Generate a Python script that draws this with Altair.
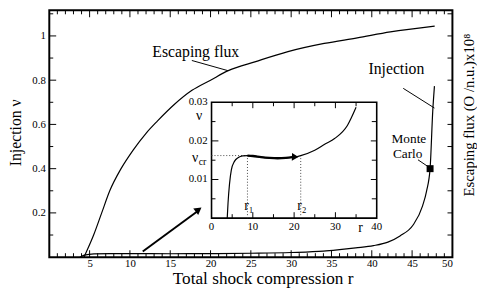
import altair as alt
import pandas as pd

FONT = "Liberation Serif"
W, H = 410, 251
X_DOM = [0, 50]
Y_DOM = [0, 1.1156]
INS_X_DOM = [0, 40]
INS_Y_DOM = [0, 0.03]
INS_X_RANGE = [165, 333]
INS_Y_RANGE = [211.3, 93.5]

# ---- main curves ----
esc_r = [4.3, 4.8, 5.5, 6.5, 7.5, 8.9, 10.4, 12.0, 13.4, 15.5, 17.7, 20.0, 22.2, 25.6, 29.6, 34.1, 38.2, 42.3, 47.8]
esc_v = [0.0, 0.04, 0.10, 0.20, 0.30, 0.40, 0.484, 0.56, 0.615, 0.69, 0.754, 0.80, 0.843, 0.884, 0.929, 0.966, 0.991, 1.018, 1.044]

inj_r = [3.8, 4.35, 5.55, 7.55, 10.0, 15.0, 20.0, 25.0, 30.0, 34.0, 36.0, 38.0, 40.2, 42.0, 43.5, 45.1, 46.3, 46.8, 47.23, 47.56, 47.77]
inj_v = [0.0, 0.009, 0.015, 0.016, 0.016, 0.0155, 0.0158, 0.0177, 0.021, 0.027, 0.034, 0.042, 0.052, 0.068, 0.096, 0.144, 0.232, 0.30, 0.40, 0.66, 0.773]

# Monte Carlo point
mc_r = [47.23]
mc_v = [0.40]

# ---- inset curve ----
ins_r = [3.8, 4.0, 4.35, 4.8, 5.55, 6.5, 7.55, 8.7, 10.0, 12.0, 14.0, 16.0, 18.0, 20.0, 21.6, 25.0, 27.5, 29.8, 32.9, 35.0]
ins_v = [0.0, 0.004, 0.0088, 0.0125, 0.0147, 0.0157, 0.0161, 0.0162, 0.0161, 0.0158, 0.0156, 0.0155, 0.0156, 0.0158, 0.0162, 0.0176, 0.0192, 0.0206, 0.024, 0.0287]
arr_r = [8.7, 10.0, 12.0, 14.0, 16.0, 18.0, 19.6]
arr_v = [0.0162, 0.0161, 0.0158, 0.0156, 0.0155, 0.0156, 0.0158]
arr_head_r = [20.0]
arr_head_v = [0.01585]
nu_cr = 0.0162
r1 = 8.7
r2 = 21.6

# ---- ticks / labels ----
main_x_major = [5, 10, 15, 20, 25, 30, 35, 40, 45]
main_x_minor = [1, 2, 3, 4, 6, 7, 8, 9, 11, 12, 13, 14, 16, 17, 18, 19, 21, 22, 23, 24,
                26, 27, 28, 29, 31, 32, 33, 34, 36, 37, 38, 39, 41, 42, 43, 44, 46, 47, 48, 49]
main_x_labels = [5, 10, 15, 20, 25, 30, 35, 40, 45, 50]
main_y_major = [0.2, 0.4, 0.6, 0.8, 1.0]
main_y_minor = [0.1, 0.3, 0.5, 0.7, 0.9, 1.1]
right_ticks = [0.1, 0.2, 0.3, 0.4, 0.5, 0.6, 0.7, 0.8, 0.9, 1.0, 1.1]

ins_x_major = [10, 20, 30]
ins_x_minor = [5, 15, 25, 35]
ins_y_major = [0.01, 0.02]
ins_y_minor = [0.005, 0.015, 0.025]
ins_x_labels = [0, 10, 20, 30, 40]
ins_x_label_text = ["0", "10", "20", "30", "40"]
ins_y_labels = [0.01, 0.02, 0.03]
ins_y_label_text = ["0.01", "0.02", "0.03"]

# ---- annotations (main) ----
ann_text = ["Escaping flux", "Injection"]
ann_r = [18.17, 43.05]
ann_v = [0.907, 0.829]
mc_text = ["Monte", "Carlo"]
mc_text_r = [44.6, 44.45]
mc_text_v = [0.514, 0.4476]
ptr_r = [17.68, 43.9, 45.73]
ptr_v = [0.889, 0.763, 0.44]
ptr_r2 = [22.16, 47.77, 47.23]
ptr_v2 = [0.843, 0.674, 0.403]
big_arrow_r = [11.59]
big_arrow_v = [0.0253]
big_arrow_r2 = [18.3]
big_arrow_v2 = [0.205]
big_head_r = [18.4]
big_head_v = [0.2116]


def xsc():
    return alt.Scale(domain=X_DOM, nice=False, zero=False)


def ysc():
    return alt.Scale(domain=Y_DOM, nice=False, zero=False)


def ixsc():
    return alt.Scale(domain=INS_X_DOM, range=INS_X_RANGE, nice=False, zero=False)


def iysc():
    return alt.Scale(domain=INS_Y_DOM, range=INS_Y_RANGE, nice=False, zero=False)


x_axis = alt.Axis(orient="bottom", values=main_x_labels, format="d", ticks=False, tickSize=0,
                  domain=False, grid=False,
                  labelFont=FONT, labelFontSize=11, labelPadding=1, labelColor="black",
                  title="Total shock compression r", titleFont=FONT, titleFontSize=17.5,
                  titleFontWeight="normal", titleColor="black", titleX=217, titleY=26.5,
                  titleAlign="center", titleBaseline="alphabetic")
y_axis = alt.Axis(orient="left", values=main_y_major,
                  labelExpr="datum.value == 1 ? '1' : format(datum.value, '.1f')",
                  ticks=False, tickSize=0, domain=False, grid=False,
                  labelFont=FONT, labelFontSize=11, labelPadding=4, labelColor="black",
                  title="Injection ν", titleFont=FONT, titleFontSize=16, titleFontWeight="normal",
                  titleColor="black", titleAngle=270, titleX=-34, titleY=124,
                  titleAlign="center", titleBaseline="middle")
right_axis = alt.Axis(orient="right", labels=False, ticks=False, tickSize=0, domain=False, grid=False,
                      title="Escaping flux (O /n.u.)x10⁸", titleFont=FONT, titleFontSize=15,
                      titleFontWeight="normal", titleColor="black", titleAngle=270,
                      titleX=21, titleY=106, titleAlign="center", titleBaseline="alphabetic")

# ---------------- main marks ----------------
esc = alt.Chart(pd.DataFrame({"r": esc_r, "v": esc_v})).mark_line(
    color="black", strokeWidth=1.2, interpolate="monotone").encode(
    x=alt.X("r:Q", scale=xsc(), axis=x_axis),
    y=alt.Y("v:Q", scale=ysc(), axis=y_axis))

inj = alt.Chart(pd.DataFrame({"r": inj_r, "v": inj_v})).mark_line(
    color="black", strokeWidth=1.2, interpolate="monotone").encode(
    x=alt.X("r:Q", scale=xsc(), axis=None),
    y=alt.Y("v:Q", scale=ysc(), axis=None))

mc = alt.Chart(pd.DataFrame({"r": mc_r, "v": mc_v})).mark_point(
    shape="square", filled=True, size=50, color="black", opacity=1).encode(
    x=alt.X("r:Q", scale=xsc(), axis=None),
    y=alt.Y("v:Q", scale=ysc(), axis=None))


def vticks(vals, yd, off, xs, ys):
    return alt.Chart(pd.DataFrame({"t": vals})).mark_rule(
        color="black", strokeWidth=1, y2Offset=off).encode(
        x=alt.X("t:Q", scale=xs, axis=None),
        y=alt.YDatum(yd, scale=ys, axis=None),
        y2=alt.Y2Datum(yd))


def hticks(vals, xd, off, xs, ys):
    return alt.Chart(pd.DataFrame({"t": vals})).mark_rule(
        color="black", strokeWidth=1, x2Offset=off).encode(
        y=alt.Y("t:Q", scale=ys, axis=None),
        x=alt.XDatum(xd, scale=xs, axis=None),
        x2=alt.X2Datum(xd))


main_ticks = [
    vticks(main_x_major, 0, -7, xsc(), ysc()),
    vticks(main_x_minor, 0, -4, xsc(), ysc()),
    vticks(main_x_major, Y_DOM[1], 7, xsc(), ysc()),
    vticks(main_x_minor, Y_DOM[1], 4, xsc(), ysc()),
    hticks(main_y_major, 0, 7, xsc(), ysc()),
    hticks(main_y_minor, 0, 4, xsc(), ysc()),
]

ann = alt.Chart(pd.DataFrame({"r": ann_r, "v": ann_v, "t": ann_text})).mark_text(
    font=FONT, fontSize=16, align="center", baseline="alphabetic", color="black").encode(
    x=alt.X("r:Q", scale=xsc(), axis=None),
    y=alt.Y("v:Q", scale=ysc(), axis=None),
    text="t:N")

mct = alt.Chart(pd.DataFrame({"r": mc_text_r, "v": mc_text_v, "t": mc_text})).mark_text(
    font=FONT, fontSize=13.5, align="center", baseline="alphabetic", color="black").encode(
    x=alt.X("r:Q", scale=xsc(), axis=None),
    y=alt.Y("v:Q", scale=ysc(), axis=None),
    text="t:N")

ptr = alt.Chart(pd.DataFrame({"r": ptr_r, "v": ptr_v, "r2": ptr_r2, "v2": ptr_v2})).mark_rule(
    color="black", strokeWidth=1).encode(
    x=alt.X("r:Q", scale=xsc(), axis=None), y=alt.Y("v:Q", scale=ysc(), axis=None),
    x2="r2:Q", y2="v2:Q")

big_arrow = alt.Chart(pd.DataFrame({"r": big_arrow_r, "v": big_arrow_v,
                                    "r2": big_arrow_r2, "v2": big_arrow_v2})).mark_rule(
    color="black", strokeWidth=2).encode(
    x=alt.X("r:Q", scale=xsc(), axis=None), y=alt.Y("v:Q", scale=ysc(), axis=None),
    x2="r2:Q", y2="v2:Q")

big_head = alt.Chart(pd.DataFrame({"r": big_head_r, "v": big_head_v})).mark_point(
    shape="triangle", filled=True, size=70, angle=53, color="black", opacity=1).encode(
    x=alt.X("r:Q", scale=xsc(), axis=None), y=alt.Y("v:Q", scale=ysc(), axis=None))

# ---------------- right axis ----------------
right = alt.Chart(pd.DataFrame({"t": right_ticks})).mark_rule(
    color="black", strokeWidth=1, x2Offset=-5).encode(
    y=alt.Y("t:Q", scale=ysc(), axis=right_axis),
    x=alt.XDatum(X_DOM[1], scale=xsc(), axis=None),
    x2=alt.X2Datum(X_DOM[1]))

# ---------------- inset ----------------
frame = alt.Chart(pd.DataFrame({"a": [0]})).mark_rect(
    fill="white", stroke="black", strokeWidth=1.6).encode(
    x=alt.XDatum(INS_X_DOM[0], scale=ixsc(), axis=None), x2=alt.X2Datum(INS_X_DOM[1]),
    y=alt.YDatum(INS_Y_DOM[0], scale=iysc(), axis=None), y2=alt.Y2Datum(INS_Y_DOM[1]))

dots = alt.Chart(pd.DataFrame({"r": [0, r1, r2], "v": [nu_cr, 0, 0],
                               "r2": [r1, r1, r2], "v2": [nu_cr, nu_cr, nu_cr]})).mark_rule(
    color="#444444", strokeWidth=1, strokeDash=[1, 2]).encode(
    x=alt.X("r:Q", scale=ixsc(), axis=None), y=alt.Y("v:Q", scale=iysc(), axis=None),
    x2="r2:Q", y2="v2:Q")

icurve = alt.Chart(pd.DataFrame({"r": ins_r, "v": ins_v})).mark_line(
    color="black", strokeWidth=1.2, interpolate="monotone").encode(
    x=alt.X("r:Q", scale=ixsc(), axis=None), y=alt.Y("v:Q", scale=iysc(), axis=None))

iarrow = alt.Chart(pd.DataFrame({"r": arr_r, "v": arr_v})).mark_line(
    color="black", strokeWidth=2.4, interpolate="monotone").encode(
    x=alt.X("r:Q", scale=ixsc(), axis=None), y=alt.Y("v:Q", scale=iysc(), axis=None))

ihead = alt.Chart(pd.DataFrame({"r": arr_head_r, "v": arr_head_v})).mark_point(
    shape="triangle", filled=True, size=60, angle=92, color="black", opacity=1).encode(
    x=alt.X("r:Q", scale=ixsc(), axis=None), y=alt.Y("v:Q", scale=iysc(), axis=None))

ins_ticks = [
    vticks(ins_x_major, 0, -6, ixsc(), iysc()),
    vticks(ins_x_minor, 0, -4, ixsc(), iysc()),
    vticks(ins_x_major, INS_Y_DOM[1], 6, ixsc(), iysc()),
    vticks(ins_x_minor, INS_Y_DOM[1], 4, ixsc(), iysc()),
    hticks(ins_y_major, 0, 7, ixsc(), iysc()),
    hticks(ins_y_minor, 0, 4, ixsc(), iysc()),
    hticks(ins_y_major, INS_X_DOM[1], -6, ixsc(), iysc()),
    hticks(ins_y_minor, INS_X_DOM[1], -5, ixsc(), iysc()),
]

ixlab = alt.Chart(pd.DataFrame({"r": ins_x_labels, "t": ins_x_label_text})).mark_text(
    font=FONT, fontSize=11, align="center", baseline="top", dy=3, color="black").encode(
    x=alt.X("r:Q", scale=ixsc(), axis=None), y=alt.YDatum(0, scale=iysc(), axis=None), text="t:N")

iylab = alt.Chart(pd.DataFrame({"v": ins_y_labels, "t": ins_y_label_text})).mark_text(
    font=FONT, fontSize=11, align="right", baseline="middle", dx=-4, color="black").encode(
    y=alt.Y("v:Q", scale=iysc(), axis=None), x=alt.XDatum(0, scale=ixsc(), axis=None), text="t:N")

isym_text = ["r", "ν", "ν", "r₁", "r₂"]
isym_r = [36.1, -2.98, -3.98, 9.05, 21.9]
isym_v = [-0.0025, 0.0265, 0.0155, 0.0031, 0.0031]
isym = alt.Chart(pd.DataFrame({"r": isym_r, "v": isym_v, "t": isym_text})).mark_text(
    font=FONT, fontSize=14, align="center", baseline="middle", color="black").encode(
    x=alt.X("r:Q", scale=ixsc(), axis=None), y=alt.Y("v:Q", scale=iysc(), axis=None), text="t:N")

cr = alt.Chart(pd.DataFrame({"r": [-2.19], "v": [0.01465], "t": ["cr"]})).mark_text(
    font=FONT, fontSize=10, align="center", baseline="middle", color="black").encode(
    x=alt.X("r:Q", scale=ixsc(), axis=None), y=alt.Y("v:Q", scale=iysc(), axis=None), text="t:N")

layers = [esc, inj, *main_ticks, ann, mct, ptr, big_arrow, big_head, mc, right,
          frame, dots, icurve, iarrow, ihead, *ins_ticks, ixlab, iylab, isym, cr]

chart = alt.layer(*layers).resolve_scale(
    x="independent", y="independent"
).properties(
    width=W, height=H,
    padding={"left": 42, "top": 0, "right": 25, "bottom": 30},
    autosize=alt.AutoSizeParams(type="none"),
    background="white",
).configure_view(stroke="black", strokeWidth=2)

chart.save("out.html", embed_options={"renderer": "svg", "actions": False})
